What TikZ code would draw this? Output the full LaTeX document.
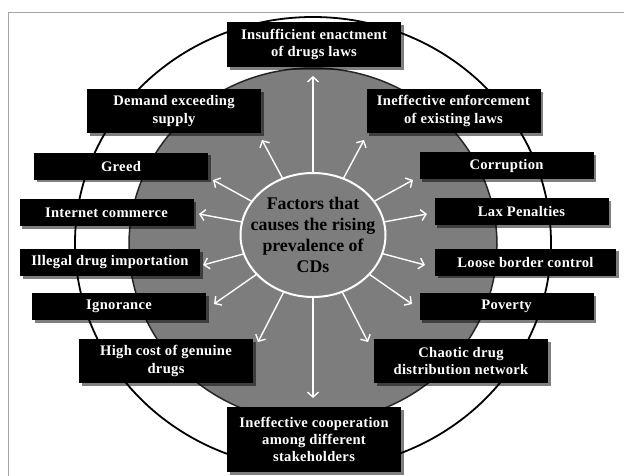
\documentclass[tikz,border=0pt]{standalone}
\usepackage{fontspec}
\setmainfont{Liberation Serif}
\newfontfamily\boxfont[LetterSpace=2]{Liberation Serif}
\usetikzlibrary{arrows.meta,shapes.geometric,shadows}
\definecolor{midgray}{RGB}{125,125,125}
\begin{document}
\begin{tikzpicture}[x=1pt,y=-1pt,
  factor/.style={fill=black, text=white, font=\boxfont\bfseries\fontsize{14.6}{17.4}\selectfont,
    align=center, inner sep=0pt, minimum width=174pt, minimum height=27pt,
    drop shadow={shadow xshift=2.5pt, shadow yshift=-2.5pt, opacity=0.5, fill=black}},
  twoline/.style={minimum height=44pt},
  arr/.style={draw=white, line width=1.4pt, -{Straight Barb[length=5pt,width=11pt]}},
  hub/.style={ellipse, fill=midgray, draw=white, line width=2pt, minimum width=145pt, minimum height=124pt, inner sep=0pt}
]
\useasboundingbox (0,0) rectangle (624,475);
\fill[white] (0,0) rectangle (624,475);
% frame
\draw[gray!70, line width=1pt] (8,476) -- (8,12) -- (625,12);
% rings
\draw[black, line width=1.8pt, fill=white] (313,243) ellipse [x radius=238pt, y radius=226pt];
\draw[black!85, line width=1.5pt, fill=midgray] (313,245) ellipse [x radius=184pt, y radius=177pt];
% hub
\node[hub] (c) at (313,235) {};
\node[font=\bfseries\fontsize{17.8}{21}\selectfont, align=center, text=black] (ct) at (313,235)
  {Factors that\\causes the rising\\prevalence of\\CDs};
% arrow tips
\coordinate (tU) at (313,76);
\coordinate (tD) at (313,398);
\coordinate (tDem) at (262,140);
\coordinate (tEnf) at (364,140);
\coordinate (tGre) at (213,180);
\coordinate (tCor) at (413,180);
\coordinate (tInt) at (199,214);
\coordinate (tLax) at (427,214);
\coordinate (tIll) at (203,265);
\coordinate (tLoo) at (425,265);
\coordinate (tIgn) at (214,304);
\coordinate (tPov) at (412,304);
\coordinate (tHig) at (258,342);
\coordinate (tCha) at (368,342);
\foreach \t in {tU,tD,tDem,tEnf,tGre,tCor,tInt,tLax,tIll,tLoo,tIgn,tPov,tHig,tCha}
  \draw[arr] (c) -- (\t);
% factor boxes
\node[factor, twoline, minimum height=45pt] (top) at (314,44.5) {Insufficient enactment\\of drugs laws};
\node[factor, twoline] (dem) at (174,111) {Demand exceeding\\supply};
\node[factor, twoline] (enf) at (453.5,111) {Ineffective enforcement\\of existing laws};
\node[factor] (gre) at (121,166) {Greed};
\node[factor] (cor) at (506.5,165.5) {Corruption};
\node[factor] (int) at (106.5,212.5) {Internet commerce};
\node[factor] (lax) at (521.5,211.5) {Lax Penalties};
\node[factor, minimum width=180pt] (ill) at (110,262.5) {Illegal drug importation};
\node[factor, minimum width=181pt] (loo) at (525.5,262) {Loose border control};
\node[factor] (ign) at (119,306.5) {Ignorance};
\node[factor] (pov) at (506.5,306.5) {Poverty};
\node[factor, twoline] (hig) at (166,361) {High cost of genuine\\drugs};
\node[factor, twoline] (cha) at (461,361) {Chaotic drug\\distribution network};
\node[factor, minimum height=65pt] (bot) at (314,439.5) {Ineffective cooperation\\among different\\stakeholders};
\end{tikzpicture}
\end{document}
